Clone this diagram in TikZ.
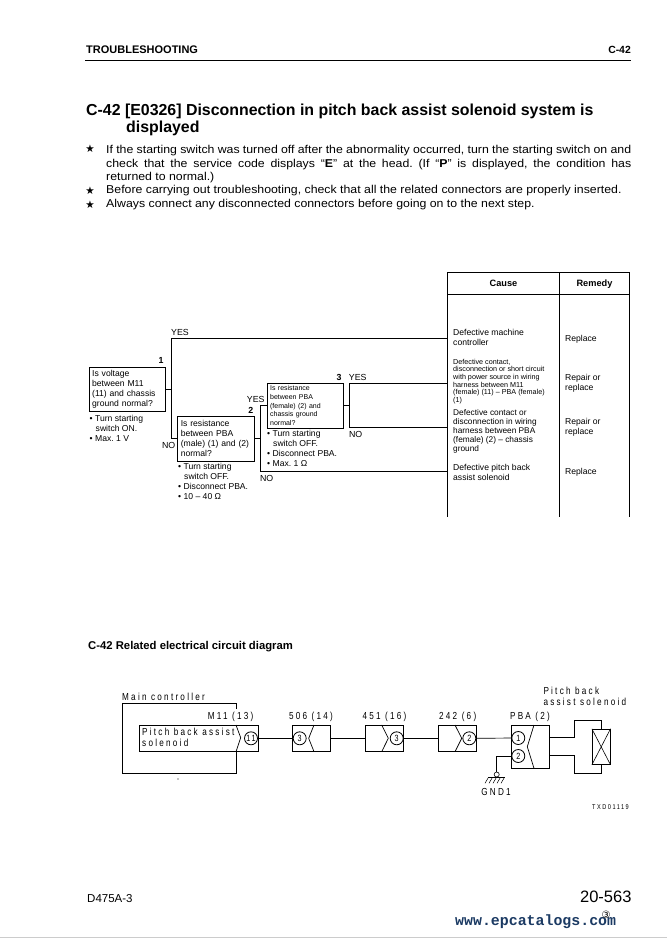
\documentclass[tikz,border=0pt]{standalone}
\usepackage{fontspec}
\setmainfont{Liberation Sans}
\newfontfamily\starfont{DejaVu Sans}
\newfontfamily\wirefont[LetterSpace=22,FakeStretch=0.8]{Liberation Sans}
\newfontfamily\webfont{Liberation Mono}
\newfontfamily\bodyfont[FakeStretch=1.08]{Liberation Sans}
\usetikzlibrary{positioning}
\definecolor{webblue}{HTML}{1B3A63}
\frenchspacing

\begin{document}
\begin{tikzpicture}[
  x=1pt, y=-1pt,
  line join=miter,
  qbox/.style={draw, line width=0.9pt, anchor=north west, inner xsep=3pt, inner ysep=0pt, align=left},
  note/.style={anchor=north west, inner sep=0pt, align=left, font=\fontsize{8.6}{10}\selectfont},
  tag/.style={inner sep=0pt, font=\fontsize{8.8}{10}\selectfont},
  stepno/.style={inner sep=0pt, font=\bfseries\fontsize{8.8}{10}\selectfont},
  cause/.style={anchor=west, inner sep=0pt, align=left, font=\fontsize{8.6}{10}\selectfont},
  remedy/.style={anchor=west, inner sep=0pt, align=left, font=\fontsize{8.6}{10}\selectfont},
  flow/.style={draw, line width=0.9pt},
  wire/.style={draw, line width=0.7pt},
  conn/.style={draw, line width=0.7pt, minimum height=26.7pt, inner sep=0pt},
  pin/.style={circle, draw, line width=0.8pt, minimum size=13pt, inner sep=0pt, font=\wirefont\fontsize{9}{9}\selectfont},
  wiretext/.style={inner sep=0pt, font=\wirefont\fontsize{10.2}{11.8}\selectfont, align=left},
  bullet/.style={inner sep=0pt, font=\starfont\fontsize{10.5}{11}\selectfont},
  bodyline/.style={anchor=west, inner sep=0pt, font=\bodyfont\fontsize{11.4}{13.7}\selectfont}
]
  \useasboundingbox (0,0) rectangle (667,938);
  \fill[white] (0,0) rectangle (667,938);

  % Page head and notes.
  \node[anchor=west, inner sep=0pt, font=\bfseries\fontsize{11}{12}\selectfont] (head) at (86,49.5) {TROUBLESHOOTING};
  \node[anchor=east, inner sep=0pt, font=\bfseries\fontsize{10.4}{12}\selectfont] (headno) at (631,50) {C-42};
  \coordinate (rulel) at (85,60);
  \coordinate (ruler) at (631,60);
  \draw[line width=1pt] (rulel) -- (ruler);

  \node[anchor=west, inner sep=0pt, font=\bfseries\fontsize{15.9}{18}\selectfont] (title) at (86,111) {C-42 [E0326] Disconnection in pitch back assist solenoid system is};
  \node[anchor=west, inner sep=0pt, font=\bfseries\fontsize{15.9}{18}\selectfont] (titleb) at (126,128) {displayed};

  \node[bullet] (s1) at (90,149) {★};
  \node[bullet] (s2) at (90,191) {★};
  \node[bullet] (s3) at (90,204.5) {★};
  \node[anchor=north west, inner sep=0pt, text width=525pt, align=justify, font=\bodyfont\fontsize{11.4}{13.7}\selectfont] (p1) at (106,145)
    {If the starting switch was turned off after the abnormality occurred, turn the starting switch on and\linebreak
     check that the service code displays “\textbf{E}” at the head. (If “\textbf{P}” is displayed, the condition has\linebreak
     returned to normal.)};
  \node[bodyline] (p2) at (106,191) {Before carrying out troubleshooting, check that all the related connectors are properly inserted.};
  \node[bodyline] (p3) at (106,204.5) {Always connect any disconnected connectors before going on to the next step.};

  % Cause and remedy table.
  \coordinate (tabnw) at (447.7,272.3);
  \coordinate (tabsw) at (447.7,516.7);
  \coordinate (tabn) at (559,272.3);
  \coordinate (tabs) at (559,516.7);
  \coordinate (tabne) at (629.3,272.3);
  \coordinate (tabse) at (629.3,516.7);
  \coordinate (tabhl) at (447.7,294.3);
  \coordinate (tabhr) at (629.3,294.3);
  \draw[line width=0.9pt] (tabsw) -- (tabnw) -- (tabne) -- (tabse);
  \draw[line width=0.9pt] (tabn) -- (tabs);
  \draw[line width=0.9pt] (tabhl) -- (tabhr);
  \node[inner sep=0pt, font=\bfseries\fontsize{9.2}{11}\selectfont] (causehd) at (503.5,283.5) {Cause};
  \node[inner sep=0pt, font=\bfseries\fontsize{9.2}{11}\selectfont] (remedyhd) at (594.5,284) {Remedy};

  \node[cause] (cause1) at (453,337) {Defective machine\\controller};
  \node[cause, font=\fontsize{7.2}{7.7}\selectfont] (cause2) at (453,381.5) {Defective contact,\\disconnection or short circuit\\with power source in wiring\\harness between M11\\(female) (11) -- PBA (female)\\(1)};
  \node[cause, font=\fontsize{8.3}{9}\selectfont] (cause3) at (453,431.5) {Defective contact or\\disconnection in wiring\\harness between PBA\\(female) (2) -- chassis\\ground};
  \node[cause] (cause4) at (453,472) {Defective pitch back\\assist solenoid};
  \node[remedy] (rem1) at (565,339) {Replace};
  \node[remedy] (rem2) at (565,383.3) {Repair or\\replace};
  \node[remedy] (rem3) at (565,427.7) {Repair or\\replace};
  \node[remedy] (rem4) at (565,472) {Replace};

  % Troubleshooting flow.
  \node[qbox, text width=70.6pt, minimum height=44pt, font=\fontsize{8.6}{10}\selectfont] (q1) at (88.7,366.7) {Is voltage\\between M11\\(11) and chassis\\ground normal?};
  \node[qbox, text width=71pt, minimum height=44.7pt, font=\fontsize{8.6}{10}\selectfont] (q2) at (177.3,416) {Is resistance\\between PBA\\(male) (1) and (2)\\normal?};
  \node[qbox, text width=70.6pt, minimum height=45pt, font=\fontsize{7}{8.8}\selectfont] (q3) at (266.7,382.7) {Is resistance\\between PBA\\(female) (2) and\\chassis ground\\normal?};

  \coordinate (fork1) at (171.3,389);
  \coordinate (fork1y) at (171.3,338.3);
  \coordinate (fork1n) at (171.3,438.3);
  \coordinate (fork2) at (260.3,438.3);
  \coordinate (fork2y) at (260.3,405);
  \coordinate (fork2n) at (260.3,471.7);
  \coordinate (fork3) at (349.3,405);
  \coordinate (fork3y) at (349.3,383.3);
  \coordinate (fork3n) at (349.3,427.7);
  \coordinate (end1) at (447.7,338.3);
  \coordinate (end2) at (447.7,383.3);
  \coordinate (end3) at (447.7,427.7);
  \coordinate (end4) at (447.7,471.7);

  \draw[flow] (q1.east |- fork1) -- (fork1);
  \draw[flow] (end1) -- (fork1y) -- (fork1n) -- (q2.west |- fork1n);
  \draw[flow] (q2.east |- fork2) -- (fork2);
  \draw[flow] (q3.west |- fork2y) -- (fork2y) -- (fork2n) -- (end4);
  \draw[flow] (q3.east |- fork3) -- (fork3);
  \draw[flow] (end2) -- (fork3y) -- (fork3n) -- (end3);

  \node[tag] (yes1) at (180,332) {YES};
  \node[tag] (no1) at (168.7,445.3) {NO};
  \node[tag] (yes2) at (255.7,399) {YES};
  \node[tag] (no2) at (266.7,478.7) {NO};
  \node[tag] (yes3) at (357.7,377) {YES};
  \node[tag] (no3) at (355.7,434.3) {NO};
  \node[stepno] (no1a) at (161,360.7) {1};
  \node[stepno] (no2a) at (250.7,410) {2};
  \node[stepno] (no3a) at (339,377.3) {3};

  \node[note] (n1) at (89.5,415) {• Turn starting\\\hspace*{6pt}switch ON.\\• Max. 1 V};
  \node[note] (n2) at (178,463.5) {• Turn starting\\\hspace*{6pt}switch OFF.\\• Disconnect PBA.\\• 10 -- 40 Ω};
  \node[note] (n3) at (267,430.5) {• Turn starting\\\hspace*{6pt}switch OFF.\\• Disconnect PBA.\\• Max. 1 Ω};

  % Circuit diagram.
  \node[anchor=west, inner sep=0pt, font=\bfseries\fontsize{11.3}{12}\selectfont] (circhead) at (88,647) {C-42 Related electrical circuit diagram};

  \node[wiretext, anchor=west] (mainlbl) at (122,697) {Main controller};
  \coordinate (maina) at (236,709);
  \coordinate (mainb) at (236,703.3);
  \coordinate (mainc) at (122.3,703.3);
  \coordinate (maind) at (122.3,773.3);
  \coordinate (maine) at (236,773.3);
  \coordinate (mainf) at (236,751.7);
  \draw[wire] (maina) -- (mainb) -- (mainc) -- (maind) -- (maine) -- (mainf);
  \fill (178,779) circle (0.6);

  \node[conn, minimum width=118.7pt] (m11) at (198.6,738.3) {};
  \node[conn, minimum width=38.4pt] (c506) at (311.5,738.3) {};
  \node[conn, minimum width=37.6pt] (c451) at (384.5,738.3) {};
  \node[conn, minimum width=38.4pt] (c242) at (457.5,738.3) {};
  \node[conn, minimum width=38pt, minimum height=43.3pt] (pba) at (530.3,746.7) {};

  \node[wiretext, anchor=north west] (m11txt) at (142,727.5) {Pitch back assist\\solenoid};
  \node[wiretext] (m11lbl) at (230.7,716.7) {M11 (13)};
  \node[wiretext] (c506lbl) at (311,716.7) {506 (14)};
  \node[wiretext] (c451lbl) at (384.5,716.7) {451 (16)};
  \node[wiretext] (c242lbl) at (457.7,716.7) {242 (6)};
  \node[wiretext] (pbalbl) at (530,716.7) {PBA (2)};
  \node[wiretext, anchor=north west] (sollbl) at (543.3,686.5) {Pitch back\\assist solenoid};
  \node[wiretext, anchor=east, font=\wirefont\fontsize{7}{8}\selectfont] (txcode) at (629,807) {TXD01119};

  \node[pin] (pin11) at (251,738.3) {11};
  \node[pin] (pin506) at (299.7,738.3) {3};
  \node[pin] (pin451) at (396.7,738.3) {3};
  \node[pin] (pin242) at (469.3,738.3) {2};
  \node[pin] (pba1) at (518.3,738) {1};
  \node[pin] (pba2) at (518.3,756) {2};

  \draw[wire] (236,725) -- (240.7,737.7) -- (236,751.7);
  \draw[wire] (314,725) -- (308.7,738.3) -- (314,751.7);
  \draw[wire] (381.7,725) -- (388.3,738.3) -- (381.7,751.7);
  \draw[wire] (455,725) -- (461.7,738.3) -- (455,751.7);
  \draw[wire] (534,725) -- (527.3,746.7) -- (534,768.3);

  \draw[wire] (pin11) -- (pin506);
  \draw[wire] (c506) -- (c451);
  \draw[wire] (pin451) -- (c242);
  \draw[wire] (pin242) -- (pba1);

  % Solenoid and its two leads.
  \node[draw, line width=0.9pt, minimum width=17.7pt, minimum height=35pt, inner sep=0pt] (sol) at (601.2,746.8) {};
  \draw[line width=0.6pt] (sol.north west) -- (sol.south east);
  \draw[line width=0.6pt] (sol.south west) -- (sol.north east);
  \coordinate (lead1a) at (574.3,737.3);
  \coordinate (lead1b) at (574.3,720.7);
  \coordinate (lead2a) at (574.3,755.3);
  \coordinate (lead2b) at (574.3,773.3);
  \draw[wire] (pba.east |- lead1a) -- (lead1a) -- (lead1b) -- (lead1b -| sol.north) -- (sol.north);
  \draw[wire] (pba.east |- lead2a) -- (lead2a) -- (lead2b) -- (lead2b -| sol.south) -- (sol.south);

  % Ground.
  \node[circle, draw, line width=0.6pt, minimum size=5pt, inner sep=0pt] (gndpt) at (496.7,774.5) {};
  \coordinate (gndbend) at (496.7,756);
  \coordinate (gndl) at (488,777.3);
  \coordinate (gndr) at (505,777.3);
  \draw[wire] (pba2) -- (gndbend) -- (gndpt);
  \draw[wire] (gndl) -- (gndr);
  \foreach \hx in {488.5,492.5,496.5,500.5,504.5}
    \draw[line width=0.5pt] (\hx,777.3) -- ++(-3.5,6);
  \node[wiretext] (gndlbl) at (496,791.7) {GND1};

  % Page foot.
  \node[anchor=west, inner sep=0pt, font=\fontsize{11.5}{14}\selectfont] (model) at (87,899) {D475A-3};
  \node[anchor=east, inner sep=0pt, font=\fontsize{16.5}{20}\selectfont] (pageno) at (631.7,897) {20-563};
  \node[anchor=west, inner sep=0pt, text=webblue, font=\webfont\bfseries\fontsize{14.9}{16}\selectfont] (web) at (455,921.5) {www.epcatalogs.com};
  \node[inner sep=0pt, font=\starfont\fontsize{10}{11}\selectfont] (rev) at (606,914.5) {③};
  \coordinate (edgel) at (0,937);
  \coordinate (edger) at (667,937);
  \draw[black!20, line width=0.8pt] (edgel) -- (edger);
\end{tikzpicture}
\end{document}
